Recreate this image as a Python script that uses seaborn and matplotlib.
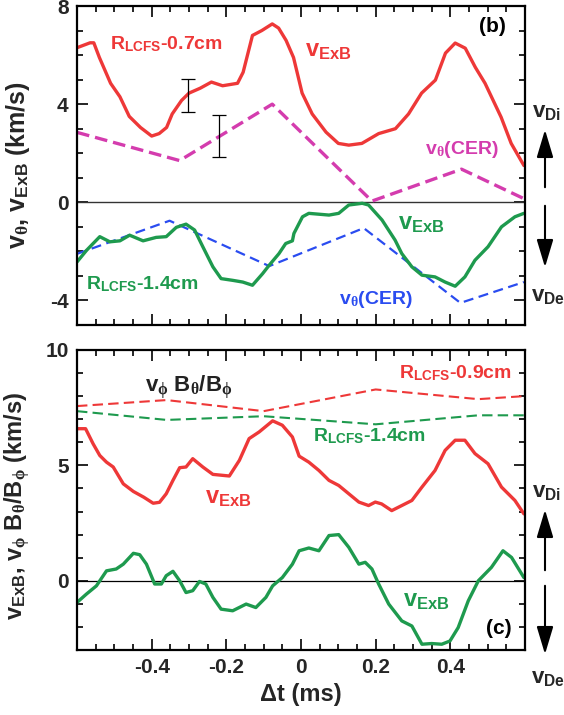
import matplotlib
matplotlib.use("Agg")
import matplotlib.pyplot as plt
import seaborn as sns
import numpy as np
from matplotlib.ticker import MultipleLocator, FixedLocator

sns.set_style("ticks")
plt.rcParams['font.family'] = ['Liberation Sans', 'DejaVu Sans']
plt.rcParams['font.weight'] = 'bold'
plt.rcParams['mathtext.fontset'] = 'custom'
plt.rcParams['mathtext.rm'] = 'Liberation Sans:bold'
plt.rcParams['mathtext.bf'] = 'Liberation Sans:bold'
plt.rcParams['mathtext.it'] = 'Liberation Serif'
plt.rcParams['mathtext.default'] = 'it'

# ---------------- data: panel (b) ----------------
t_red_b = [-0.60, -0.565, -0.555, -0.54, -0.51, -0.485, -0.46, -0.43, -0.40, -0.38,
           -0.36, -0.345, -0.32, -0.30, -0.27, -0.24, -0.21, -0.17, -0.155, -0.13,
           -0.105, -0.077, -0.06, -0.04, -0.02, 0.003, 0.03, 0.067, 0.10, 0.128,
           0.163, 0.208, 0.253, 0.288, 0.323, 0.36, 0.387, 0.413, 0.44, 0.467,
           0.493, 0.536, 0.563, 0.597]
v_red_b = [6.3, 6.5, 6.5, 5.9, 4.85, 4.3, 3.5, 3.05, 2.7, 2.8,
           3.05, 3.6, 4.15, 4.45, 4.65, 4.9, 4.75, 4.85, 5.3, 6.8,
           7.0, 7.27, 7.1, 6.6, 5.9, 4.45, 3.6, 2.86, 2.4, 2.33,
           2.4, 2.8, 3.0, 3.6, 4.45, 4.98, 6.08, 6.49, 6.28, 5.5,
           4.85, 3.47, 2.4, 1.5]

t_green_b = [-0.60, -0.574, -0.539, -0.512, -0.485, -0.459, -0.423, -0.388, -0.361, -0.334,
             -0.308, -0.285, -0.263, -0.236, -0.214, -0.183, -0.156, -0.130, -0.103, -0.085,
             -0.059, -0.041, -0.023, -0.019, 0.004, 0.021, 0.075, 0.101, 0.128, 0.164,
             0.181, 0.217, 0.252, 0.270, 0.297, 0.324, 0.359, 0.386, 0.413, 0.439,
             0.466, 0.501, 0.537, 0.573, 0.597]
v_green_b = [-2.43, -1.95, -1.40, -1.61, -1.57, -1.34, -1.57, -1.43, -1.40, -1.02,
             -0.89, -1.13, -1.81, -2.63, -3.11, -3.18, -3.25, -3.38, -2.91, -2.56,
             -2.09, -1.68, -1.57, -1.27, -0.59, -0.45, -0.52, -0.45, -0.11, -0.04,
             -0.11, -0.72, -1.54, -2.09, -2.63, -2.97, -3.04, -3.25, -3.42, -3.04,
             -2.36, -1.81, -1.00, -0.59, -0.45]

t_cer_mag = [-0.60, -0.325, -0.077, 0.19, 0.43, 0.597]
v_cer_mag = [2.85, 1.7, 4.0, 0.05, 1.35, 0.15]

t_cer_blue = [-0.60, -0.352, -0.085, 0.168, 0.427, 0.597]
v_cer_blue = [-2.1, -0.75, -2.6, -1.05, -4.1, -3.25]

t_err = [-0.304, -0.219]
v_err = [4.35, 2.7]
e_err = [0.68, 0.85]

# ---------------- data: panel (c) ----------------
t_red_c = [-0.60, -0.577, -0.557, -0.539, -0.521, -0.503, -0.476, -0.449, -0.421, -0.396,
           -0.379, -0.361, -0.343, -0.325, -0.308, -0.290, -0.263, -0.236, -0.192, -0.165,
           -0.139, -0.112, -0.076, -0.050, -0.023, -0.005, 0.021, 0.048, 0.075, 0.101,
           0.128, 0.155, 0.181, 0.199, 0.216, 0.243, 0.270, 0.297, 0.324, 0.359,
           0.386, 0.413, 0.439, 0.466, 0.501, 0.537, 0.573, 0.597]
v_red_c = [6.59, 6.59, 5.94, 5.43, 5.14, 4.93, 4.2, 3.87, 3.62, 3.36,
           3.4, 3.77, 4.35, 4.9, 4.93, 5.29, 4.93, 4.61, 4.54, 5.22,
           6.16, 6.45, 6.93, 6.74, 6.23, 5.4, 5.14, 4.78, 4.35, 4.13,
           3.77, 3.41, 3.26, 3.41, 3.33, 3.04, 3.26, 3.48, 4.06, 4.78,
           5.65, 6.09, 6.09, 5.51, 5.07, 4.06, 3.48, 2.9]

t_green_c = [-0.60, -0.575, -0.548, -0.521, -0.495, -0.476, -0.449, -0.432, -0.414, -0.392,
             -0.374, -0.361, -0.343, -0.325, -0.308, -0.290, -0.272, -0.255, -0.236, -0.214,
             -0.183, -0.147, -0.121, -0.094, -0.076, -0.050, -0.023, -0.005, 0.021, 0.048,
             0.075, 0.101, 0.128, 0.155, 0.172, 0.190, 0.208, 0.235, 0.270, 0.297,
             0.324, 0.350, 0.377, 0.399, 0.421, 0.448, 0.475, 0.510, 0.541, 0.564, 0.597]
v_green_c = [-0.94, -0.58, -0.22, 0.43, 0.51, 0.72, 1.19, 1.13, 0.72, -0.14,
             -0.14, 0.22, 0.41, 0.0, -0.51, -0.43, -0.03, -0.14, -0.72, -1.23,
             -1.30, -1.01, -1.16, -0.72, -0.22, 0.14, 0.72, 1.30, 1.42, 1.30,
             1.96, 2.0, 1.45, 0.72, 0.80, 0.51, -0.14, -1.01, -1.74, -1.96,
             -2.75, -2.72, -2.75, -2.61, -2.03, -0.87, 0.0, 0.58, 1.30, 1.01, 0.14]

t_vphi = [-0.60, -0.36, -0.10, 0.20, 0.475, 0.597]
v_vphi_red = [7.57, 7.83, 7.35, 8.29, 7.87, 8.0]
v_vphi_green = [7.35, 6.97, 7.13, 6.78, 7.17, 7.17]

xticks = [-0.4, -0.2, 0.0, 0.2, 0.4]
xticklabels = ['-0.4', '-0.2', '0', '0.2', '0.4']

RED = '#ee3838'
GREEN = '#1e9a4e'
MAG = '#d43cae'
BLUE = '#2a4cf0'

fig = plt.figure(figsize=(5.64, 7.15), dpi=100)
ax1 = fig.add_axes([77/564, 1-325/715, 448/564, 319/715])
ax2 = fig.add_axes([77/564, 1-650/715, 448/564, 300/715])

# ---- panel (b) ----
ax1.axhline(0, color='#333333', lw=1.0, zorder=1)
sns.lineplot(x=t_cer_mag, y=v_cer_mag, ax=ax1, color=MAG, lw=2.4, sort=False)
ax1.lines[-1].set_dashes([3.8, 1.8])
sns.lineplot(x=t_cer_blue, y=v_cer_blue, ax=ax1, color=BLUE, lw=1.6, sort=False)
ax1.lines[-1].set_dashes([4.5, 2.5])
sns.lineplot(x=t_red_b, y=v_red_b, ax=ax1, color=RED, lw=2.4, sort=False)
sns.lineplot(x=t_green_b, y=v_green_b, ax=ax1, color=GREEN, lw=2.4, sort=False)
ax1.errorbar(t_err, v_err, yerr=e_err, fmt='none', ecolor='black', elinewidth=0.9,
             capsize=5, capthick=0.9, zorder=5)

ax1.set_xlim(-0.6, 0.6)
ax1.set_ylim(-5, 8)
ax1.yaxis.set_major_locator(FixedLocator([-4, 0, 4, 8]))
ax1.yaxis.set_minor_locator(MultipleLocator(1))
ax1.set_yticklabels(['-4', '0', '4', '8'])
ax1.xaxis.set_major_locator(FixedLocator(xticks))
ax1.xaxis.set_minor_locator(MultipleLocator(0.05))
ax1.set_xticklabels([])
ax1.set_ylabel(r"$\mathrm{v}_{\theta}$, $\mathrm{v}_{\mathrm{ExB}}$ (km/s)", fontsize=18, fontweight='bold')
ax1.yaxis.set_label_coords(-0.1, 0.5)

tf = dict(fontweight='bold', fontsize=14)
ax1.text(-0.36, 6.45, r"R$_{\mathrm{LCFS}}$-0.7cm", color=RED, ha='center', va='center', **tf)
ax1.text(0.012, 6.2, r"$\mathrm{v}_{\mathrm{ExB}}$", color=RED, ha='left', va='center', fontsize=17)
ax1.text(0.55, 7.15, "(b)", color='black', ha='right', va='center', fontsize=15, fontweight='bold')
ax1.text(0.43, 2.15, r"$\mathrm{v}_{\theta}$(CER)", color=MAG, ha='center', va='center', **tf)
ax1.text(0.26, -0.85, r"$\mathrm{v}_{\mathrm{ExB}}$", color=GREEN, ha='left', va='center', fontsize=17)
ax1.text(0.2, -3.95, r"$\mathrm{v}_{\theta}$(CER)", color=BLUE, ha='center', va='center', **tf)
ax1.text(-0.425, -3.35, r"R$_{\mathrm{LCFS}}$-1.4cm", color=GREEN, ha='center', va='center', **tf)

# ---- panel (c) ----
ax2.axhline(0, color='black', lw=0.9, zorder=1)
sns.lineplot(x=t_vphi, y=v_vphi_red, ax=ax2, color=RED, lw=1.5, sort=False)
ax2.lines[-1].set_dashes([5, 2.5])
sns.lineplot(x=t_vphi, y=v_vphi_green, ax=ax2, color=GREEN, lw=1.5, sort=False)
ax2.lines[-1].set_dashes([5, 2.5])
sns.lineplot(x=t_red_c, y=v_red_c, ax=ax2, color=RED, lw=2.4, sort=False)
sns.lineplot(x=t_green_c, y=v_green_c, ax=ax2, color=GREEN, lw=2.4, sort=False)

ax2.set_xlim(-0.6, 0.6)
ax2.set_ylim(-3, 10)
ax2.yaxis.set_major_locator(FixedLocator([0, 5, 10]))
ax2.yaxis.set_minor_locator(MultipleLocator(1))
ax2.set_yticklabels(['0', '5', '10'])
ax2.xaxis.set_major_locator(FixedLocator(xticks))
ax2.xaxis.set_minor_locator(MultipleLocator(0.05))
ax2.set_xticklabels(xticklabels)
ax2.set_xlabel(r"Δt (ms)", fontsize=17, fontweight='bold')
ax2.set_ylabel(r"$\mathrm{v}_{\mathrm{ExB}}$, $\mathrm{v}_{\phi}$ $\mathrm{B}_{\theta}$/$\mathrm{B}_{\phi}$ (km/s)",
               fontsize=17, fontweight='bold')
ax2.yaxis.set_label_coords(-0.1, 0.48)

ax2.text(-0.30, 8.4, r"$\mathrm{v}_{\phi}$ $\mathrm{B}_{\theta}$/$\mathrm{B}_{\phi}$", color='#222222',
         ha='center', va='center', fontsize=16)
ax2.text(0.415, 9.0, r"R$_{\mathrm{LCFS}}$-0.9cm", color=RED, ha='center', va='center', **tf)
ax2.text(0.184, 6.25, r"R$_{\mathrm{LCFS}}$-1.4cm", color=GREEN, ha='center', va='center', **tf)
ax2.text(-0.195, 3.6, r"$\mathrm{v}_{\mathrm{ExB}}$", color=RED, ha='center', va='center', fontsize=17)
ax2.text(0.336, -0.87, r"$\mathrm{v}_{\mathrm{ExB}}$", color=GREEN, ha='center', va='center', fontsize=17)
ax2.text(0.53, -2.05, "(c)", color='black', ha='center', va='center', fontsize=15, fontweight='bold')

for ax in (ax1, ax2):
    for s in ax.spines.values():
        s.set_linewidth(1.6)
        s.set_color('black')
    ax.tick_params(which='both', direction='in', top=True, right=True, width=1.2, color='black')
    ax.tick_params(which='major', length=8, labelsize=15, pad=6)
    ax.tick_params(which='minor', length=4)
    for lab in ax.get_xticklabels() + ax.get_yticklabels():
        lab.set_fontweight('bold')

# ---- right-side direction arrows ----
def fy(py):
    return 1 - py / 715

def fx(px):
    return px / 564

arrow_kw = dict(arrowstyle='-|>,head_length=1.0,head_width=0.3', color='black', lw=1.5)
for (y_di, up0, up1, dn0, dn1, y_de) in [(112, 190, 127, 203, 270, 295),
                                          (492, 573, 507, 583, 657, 677)]:
    fig.text(fx(547), fy(y_di), r"$\mathrm{v}_{\mathrm{Di}}$", ha='center', va='center', fontsize=16)
    fig.patches.append(matplotlib.patches.FancyArrowPatch((fx(545), fy(up0)), (fx(545), fy(up1)),
                       transform=fig.transFigure, mutation_scale=17, **arrow_kw))
    fig.patches.append(matplotlib.patches.FancyArrowPatch((fx(545), fy(dn0)), (fx(545), fy(dn1)),
                       transform=fig.transFigure, mutation_scale=17, **arrow_kw))
    fig.text(fx(548), fy(y_de), r"$\mathrm{v}_{\mathrm{De}}$", ha='center', va='center', fontsize=16)

fig.savefig("out.png", dpi=100)
